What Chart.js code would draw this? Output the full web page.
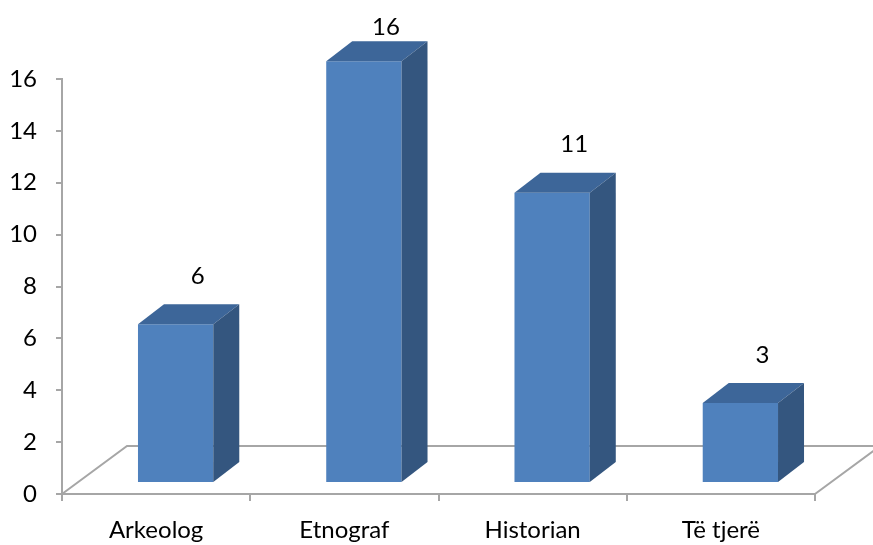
<!DOCTYPE html>
<html>
<head>
<meta charset="utf-8">
<script src="https://cdn.jsdelivr.net/npm/chart.js@4"></script>
<style>
  body { margin: 0; background: #fff; }
  #wrap { width: 873px; height: 545px; }
</style>
</head>
<body>
<div id="wrap"><canvas id="myChart"></canvas></div>
<script>
// data
const categories = ['Arkeolog', 'Etnograf', 'Historian', 'Të tjerë'];
const counts = [6, 16, 11, 3];
const yMax = 16;
const yStep = 2;

// look of the 3D boxes
const FRONT = '#4f81bd';
const TOP = '#3d6699';
const SIDE = '#34567f';
const AXIS = '#a6a6a6';
const DX = 26, DY = 20;        // depth of each box
const SHIFT = 0.1036;          // boxes sit a bit right of their category slot
const FONT = { family: 'Lato', size: 24 };

const floor = {
    id: 'floor',
    beforeDatasetsDraw(chart) {
        const a = chart.chartArea;
        const ctx = chart.ctx;
        ctx.save();
        ctx.strokeStyle = AXIS;
        ctx.lineWidth = 2;
        ctx.beginPath();
        ctx.moveTo(a.left, a.bottom);
        ctx.lineTo(a.left + 65, a.bottom - 48);
        ctx.lineTo(chart.width + 10, a.bottom - 48);
        ctx.moveTo(a.right, a.bottom);
        ctx.lineTo(a.right + 65, a.bottom - 48);
        ctx.stroke();
        ctx.restore();
    }
};

const boxes = {
    id: 'boxes',
    afterDatasetsDraw(chart) {
        const ctx = chart.ctx;
        const meta = chart.getDatasetMeta(0);
        ctx.save();
        meta.data.forEach((bar, i) => {
            const { x, y, base, width } = bar.getProps(['x', 'y', 'base', 'width'], true);
            const l = x - width / 2, r = x + width / 2;
            ctx.fillStyle = TOP;
            ctx.beginPath();
            ctx.moveTo(l, y);
            ctx.lineTo(l + DX, y - DY);
            ctx.lineTo(r + DX, y - DY);
            ctx.lineTo(r, y);
            ctx.closePath();
            ctx.fill();
            ctx.fillStyle = SIDE;
            ctx.beginPath();
            ctx.moveTo(r, y);
            ctx.lineTo(r + DX, y - DY);
            ctx.lineTo(r + DX, base - DY);
            ctx.lineTo(r, base);
            ctx.closePath();
            ctx.fill();
            // value label, kept inside the top of the canvas
            ctx.fillStyle = '#000';
            ctx.font = FONT.size + 'px ' + FONT.family;
            ctx.textAlign = 'center';
            ctx.textBaseline = 'middle';
            ctx.fillText(String(counts[i]), x + 22, Math.max(y - DY - 28, 27));
        });
        ctx.restore();
    }
};

const ctx = document.getElementById('myChart').getContext('2d');
new Chart(ctx, {
    type: 'bar',
    data: {
        labels: categories,
        datasets: [{
            data: counts.map((v, i) => ({ x: i, y: v })),
            backgroundColor: FRONT,
            borderWidth: 0,
            xAxisID: 'xb',
            yAxisID: 'yb',
            barPercentage: 0.4,
            categoryPercentage: 1,
            clip: false
        }]
    },
    options: {
        responsive: true,
        maintainAspectRatio: false,
        animation: false,
        layout: { padding: { top: 79, right: 58, left: 0, bottom: 0 } },
        plugins: { legend: { display: false }, tooltip: { enabled: false } },
        scales: {
            x: {
                type: 'category',
                offset: true,
                grid: { offset: true, drawOnChartArea: false, tickLength: 7, color: AXIS, lineWidth: 2 },
                border: { display: true, color: AXIS, width: 2 },
                ticks: { color: '#000', font: FONT, padding: 15, maxRotation: 0 },
                afterFit: s => { s.height = 51; }
            },
            y: {
                min: 0,
                max: yMax,
                ticks: { stepSize: yStep, color: '#000', font: FONT, padding: 19 },
                grid: { drawOnChartArea: false, tickLength: 6, color: AXIS, lineWidth: 2 },
                border: { display: true, color: AXIS, width: 2 },
                afterFit: s => { s.width = 62; }
            },
            xb: {
                type: 'linear',
                display: false,
                offset: false,
                grid: { offset: false },
                min: -0.5 - SHIFT,
                max: categories.length - 0.5 - SHIFT,
                ticks: { stepSize: 1, includeBounds: false }
            },
            yb: {
                type: 'linear',
                display: false,
                min: -0.456,
                max: 15.323
            }
        }
    },
    plugins: [floor, boxes]
});
</script>
</body>
</html>
